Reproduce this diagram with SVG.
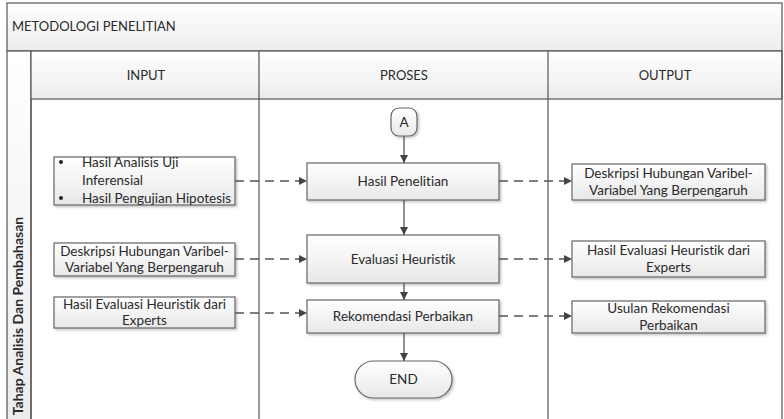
<svg xmlns="http://www.w3.org/2000/svg" width="784" height="419" viewBox="0 0 784 419">
<defs>
<linearGradient id="gBox" x1="0" y1="0" x2="0" y2="1">
<stop offset="0" stop-color="#ffffff"/>
<stop offset="1" stop-color="#e8e8e8"/>
</linearGradient>
<linearGradient id="gHead" x1="0" y1="0" x2="0" y2="1">
<stop offset="0" stop-color="#ffffff"/>
<stop offset="1" stop-color="#ececec"/>
</linearGradient>
<filter id="sh" x="-10%" y="-10%" width="130%" height="140%">
<feDropShadow dx="1.5" dy="1.5" stdDeviation="1" flood-color="#000" flood-opacity="0.25"/>
</filter>
<marker id="arr" markerWidth="10" markerHeight="10" refX="8" refY="4" orient="auto" markerUnits="userSpaceOnUse">
<path d="M0,0 L8,4 L0,8 Z" fill="#444"/>
</marker>
</defs>
<style>
text{font-family:Lato,"Liberation Sans",sans-serif;fill:#2a2a2a;font-size:13.5px;font-variant-ligatures:none}
.c{text-anchor:middle}
.cap{font-size:13px}
.box{fill:url(#gBox);stroke:#666;stroke-width:1.2;filter:url(#sh)}
.sol{stroke:#555;stroke-width:1.3;fill:none;marker-end:url(#arr)}
.dash{stroke:#555;stroke-width:1.3;fill:none;stroke-dasharray:9,6;marker-end:url(#arr)}
</style>
<rect x="0" y="0" width="784" height="419" fill="#fff"/>
<g id="pool">
<rect x="7" y="3" width="775" height="48" fill="url(#gHead)" stroke="#555" stroke-width="1.2"/>
<text class="cap" x="12" y="31">METODOLOGI PENELITIAN</text>
<rect x="7" y="51" width="24" height="370" fill="url(#gHead)" stroke="#555" stroke-width="1.2"/>
<text class="c" transform="translate(23,316) rotate(-90)" style="font-weight:bold;font-size:14px">Tahap Analisis Dan Pembahasan</text>
<rect x="31" y="51" width="751" height="48" fill="url(#gHead)" stroke="#555" stroke-width="1.2"/>
<line x1="31" y1="99" x2="31" y2="421" stroke="#555" stroke-width="1.2"/>
<line x1="259" y1="51" x2="259" y2="421" stroke="#555" stroke-width="1.2"/>
<line x1="548" y1="51" x2="548" y2="421" stroke="#555" stroke-width="1.2"/>
<line x1="782" y1="51" x2="782" y2="421" stroke="#555" stroke-width="1.2"/>
<text class="c cap" x="146" y="80">INPUT</text>
<text class="c cap" x="404" y="80">PROSES</text>
<text class="c cap" x="665" y="80">OUTPUT</text>
</g>
<g id="in1">
<rect class="box" x="54" y="157" width="181" height="48"/>
<circle cx="61" cy="162" r="2" fill="#222"/>
<circle cx="61" cy="198" r="2" fill="#222"/>
<text x="82" y="167">Hasil Analisis Uji</text>
<text x="82" y="185">Inferensial</text>
<text x="82" y="203">Hasil Pengujian Hipotesis</text>
</g>
<g id="in2">
<rect class="box" x="54" y="243" width="181" height="33"/>
<text class="c" x="144.5" y="256">Deskripsi Hubungan Varibel-</text>
<text class="c" x="144.5" y="272">Variabel Yang Berpengaruh</text>
</g>
<g id="in3">
<rect class="box" x="54" y="297" width="181" height="31"/>
<text class="c" x="144.5" y="309">Hasil Evaluasi Heuristik dari</text>
<text class="c" x="144.5" y="325">Experts</text>
</g>
<g id="pA">
<rect class="box" x="391" y="108" width="26" height="28" rx="8"/>
<text class="c" x="404" y="127">A</text>
</g>
<g id="p1">
<rect class="box" x="307" y="163" width="192" height="37"/>
<text class="c" x="403" y="186">Hasil Penelitian</text>
</g>
<g id="p2">
<rect class="box" x="307" y="235" width="192" height="48"/>
<text class="c" x="403" y="264">Evaluasi Heuristik</text>
</g>
<g id="p3">
<rect class="box" x="307" y="300" width="192" height="33"/>
<text class="c" x="403" y="321">Rekomendasi Perbaikan</text>
</g>
<g id="pEnd">
<rect class="box" x="355" y="361" width="97" height="37" rx="18.5"/>
<text class="c" x="403.5" y="384">END</text>
</g>
<g id="out1">
<rect class="box" x="572" y="164" width="193" height="36"/>
<text class="c" x="668.5" y="178">Deskripsi Hubungan Varibel-</text>
<text class="c" x="668.5" y="195">Variabel Yang Berpengaruh</text>
</g>
<g id="out2">
<rect class="box" x="572" y="241" width="193" height="36"/>
<text class="c" x="668.5" y="255">Hasil Evaluasi Heuristik dari</text>
<text class="c" x="668.5" y="272">Experts</text>
</g>
<g id="out3">
<rect class="box" x="572" y="301" width="193" height="32"/>
<text class="c" x="668.5" y="313">Usulan Rekomendasi</text>
<text class="c" x="668.5" y="330">Perbaikan</text>
</g>
<g id="connectors">
<line class="sol" x1="404" y1="136" x2="404" y2="163"/>
<line class="sol" x1="404" y1="200" x2="404" y2="235"/>
<line class="sol" x1="404" y1="283" x2="404" y2="300"/>
<line class="sol" x1="404" y1="333" x2="404" y2="361"/>
<line class="dash" x1="235" y1="181" x2="307" y2="181"/>
<line class="dash" x1="235" y1="259" x2="307" y2="259"/>
<line class="dash" x1="235" y1="313" x2="307" y2="313"/>
<line class="dash" x1="499" y1="181" x2="572" y2="181"/>
<line class="dash" x1="499" y1="259" x2="572" y2="259"/>
<line class="dash" x1="499" y1="316" x2="572" y2="316"/>
</g>
</svg>
